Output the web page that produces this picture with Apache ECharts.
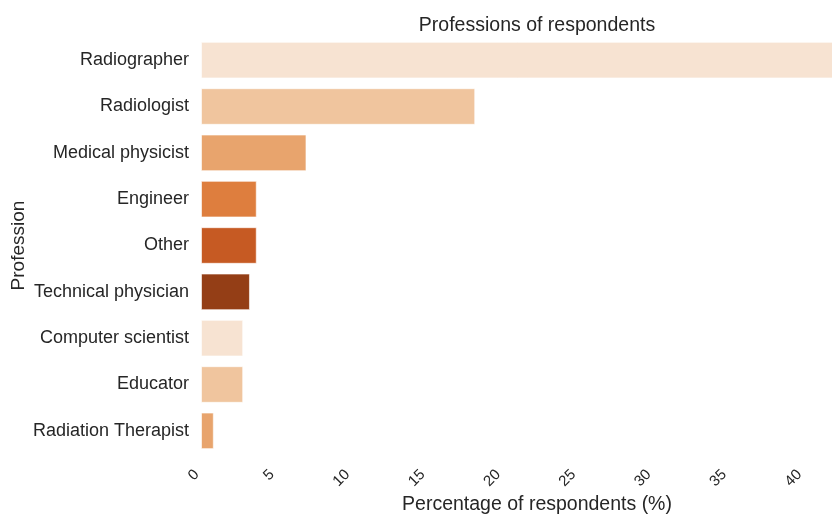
<!DOCTYPE html>
<html>
<head>
<meta charset="utf-8">
<script src="https://cdn.jsdelivr.net/npm/echarts@6/dist/echarts.min.js"></script>
<style>
  html, body { margin: 0; padding: 0; background: #fff; }
  #container { width: 832px; height: 514px; }
</style>
</head>
<body>
<div id="container"></div>
<script>
var professions = ['Radiographer', 'Radiologist', 'Medical physicist', 'Engineer', 'Other',
    'Technical physician', 'Computer scientist', 'Educator', 'Radiation Therapist'];
var percentages = [42.5, 18.2, 7.0, 3.7, 3.7, 3.25, 2.8, 2.8, 0.85];
var palette = ['#f7e3d2', '#f0c59e', '#e8a46d', '#de7e3e', '#c65a23', '#943e16'];
var xTicks = [0, 5, 10, 15, 20, 25, 30, 35, 40];

var dom = document.getElementById('container');
var profChart = echarts.init(dom, null, { renderer: 'canvas' });

var barData = percentages.map(function (v, i) {
    return {
        value: v,
        itemStyle: { color: palette[i % palette.length] }
    };
});

var option = {
    animation: false,
    backgroundColor: '#ffffff',
    textStyle: { fontFamily: 'Liberation Sans, Arial, sans-serif' },
    title: {
        text: 'Professions of respondents',
        left: 532,
        top: 11,
        textAlign: 'center',
        textStyle: { fontSize: 19.5, fontWeight: 'normal', color: '#262626' }
    },
    grid: {
        left: 201,
        right: -41,
        top: 37,
        bottom: 60,
        containLabel: false,
        outerBoundsMode: 'none'
    },
    xAxis: {
        type: 'value',
        min: 0,
        max: 44.6,
        interval: 5,
        name: 'Percentage of respondents (%)',
        nameLocation: 'middle',
        nameGap: 41,
        nameMoveOverlap: false,
        nameTextStyle: { fontSize: 19.5, color: '#262626' },
        axisLine: { show: false },
        axisTick: { show: false },
        splitLine: { show: false },
        axisLabel: {
            rotate: 45,
            margin: 14,
            padding: [0, 6, 0, 0],
            fontSize: 15,
            color: '#262626',
            showMaxLabel: false,
            formatter: function (v) {
                return xTicks.indexOf(v) >= 0 ? String(v) : '';
            }
        }
    },
    yAxis: {
        type: 'category',
        inverse: true,
        data: professions,
        name: 'Profession',
        nameLocation: 'middle',
        nameGap: 173,
        nameMoveOverlap: false,
        nameTextStyle: { fontSize: 19, color: '#262626' },
        axisLine: { show: false },
        axisTick: { show: false },
        splitLine: { show: false },
        axisLabel: { fontSize: 18, color: '#262626', margin: 12 }
    },
    series: [{
        type: 'bar',
        data: barData,
        barWidth: '79%',
        itemStyle: { borderColor: 'rgba(255,255,255,0.6)', borderWidth: 1 }
    }]
};

profChart.setOption(option);
window.addEventListener('resize', profChart.resize);
</script>
</body>
</html>
